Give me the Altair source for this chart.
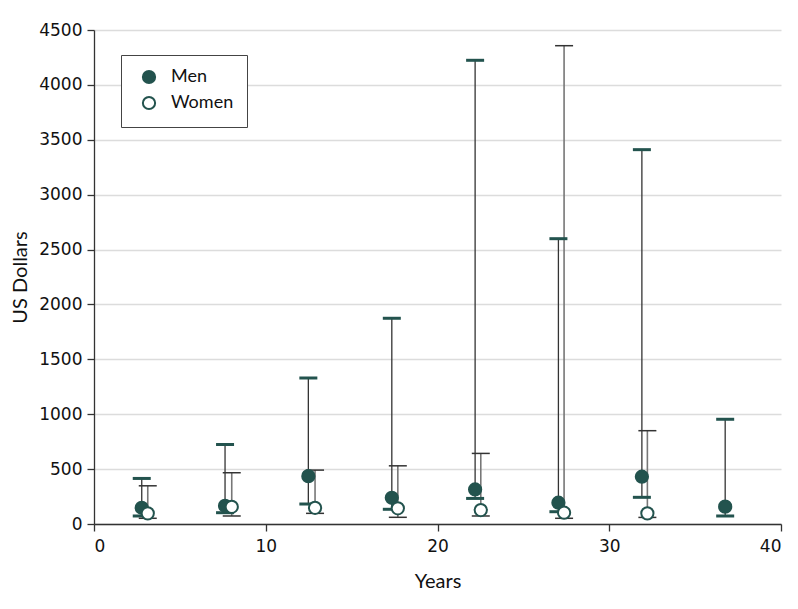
import altair as alt
import pandas as pd

# Men
men_x = [2.78, 7.63, 12.48, 17.34, 22.19, 27.04, 31.9, 36.75]
men_val = [148, 166, 436, 239, 315, 194, 431, 158]
men_lo = [73, 103, 182, 134, 233, 112, 243, 73]
men_hi = [415, 724, 1330, 1874, 4224, 2599, 3410, 954]

# Women
women_x = [3.13, 8.02, 12.87, 17.69, 22.52, 27.37, 32.22]
women_val = [97, 157, 148, 143, 127, 103, 97]
women_lo = [52, 73, 97, 61, 73, 52, 60]
women_hi = [348, 467, 491, 530, 643, 4357, 850]

x_ticks = [0, 10, 20, 30, 40]
y_ticks = [0, 500, 1000, 1500, 2000, 2500, 3000, 3500, 4000, 4500]

TEAL = "#23534e"
COND = "Lato, Roboto, sans-serif"

men = pd.DataFrame({"sex": "Men", "x": men_x, "val": men_val, "lo": men_lo, "hi": men_hi})
women = pd.DataFrame({"sex": "Women", "x": women_x, "val": women_val, "lo": women_lo, "hi": women_hi})
both = pd.concat([men, women], ignore_index=True)

xs = alt.Scale(domain=[0, 40], nice=False)
ys = alt.Scale(domain=[0, 4500], nice=False)

xenc = alt.X("x:Q", scale=xs, title="Years",
             axis=alt.Axis(values=x_ticks, grid=False, titleY=63,
                           titleBaseline="alphabetic"))
yenc = alt.Y("val:Q", scale=ys, title="US Dollars",
             axis=alt.Axis(values=y_ticks, grid=True, format="d", titleX=-74,
                           titleBaseline="middle"))

def rules(df, color, width):
    return alt.Chart(df).mark_rule(color=color, strokeWidth=width).encode(
        x=alt.X("x:Q", scale=xs), y=alt.Y("lo:Q", scale=ys), y2="hi:Q")

def caps(df, field, color, thick):
    return alt.Chart(df).mark_tick(orient="horizontal", size=18, thickness=thick,
                                   color=color, opacity=1).encode(
        x=alt.X("x:Q", scale=xs), y=alt.Y(f"{field}:Q", scale=ys))

points = alt.Chart(both).mark_point(shape="circle", filled=True, size=150,
                                    stroke=TEAL, strokeWidth=2, opacity=1).encode(
    x=xenc, y=yenc,
    fill=alt.Fill("sex:N", scale=alt.Scale(domain=["Men", "Women"], range=[TEAL, "white"]),
                  legend=alt.Legend(title=None, orient="none", legendX=27, legendY=25,
                                    strokeColor="#444", padding=13, symbolOffset=6,
                                    labelFont=COND, labelFontSize=18, labelColor="#111",
                                    symbolSize=150, symbolStrokeWidth=2,
                                    symbolStrokeColor=TEAL, labelOffset=13,
                                    rowPadding=4, fillColor="white")),
)

chart = alt.layer(
    rules(men, "#333333", 1.3),
    rules(women, "#777777", 1.6),
    caps(men, "hi", TEAL, 3),
    caps(men, "lo", TEAL, 3),
    caps(women, "hi", "#333333", 1.5),
    caps(women, "lo", "#333333", 1.5),
    points,
).properties(
    width=687, height=494,
    autosize=alt.AutoSizeParams(type="none"),
    padding={"left": 86, "top": 22, "right": 9, "bottom": 75},
).configure_view(stroke=None).configure_axis(
    domainColor="#333", tickColor="#333", tickSize=7, domainWidth=1.3, tickWidth=1.3,
    labelFont="DejaVu Sans", labelFontSize=17, labelColor="#111", labelPadding=5,
    titleFont=COND, titleFontSize=20, titleFontWeight="normal", titleColor="#111",
    gridColor="#dcdcdc", gridWidth=1.5,
).configure_axisX(labelPadding=7)

chart.save("out.html", embed_options={"renderer": "svg", "actions": False})
